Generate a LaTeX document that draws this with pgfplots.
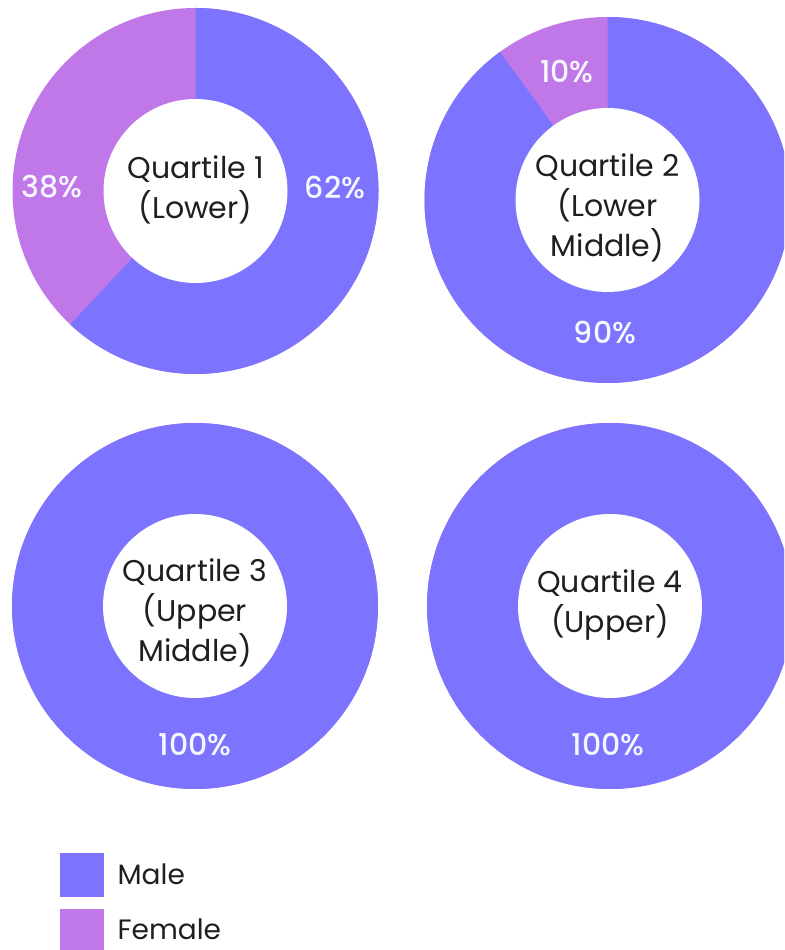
\documentclass[border=0pt]{standalone}
\usepackage{fontspec}
\setmainfont{Poppins}
\IfFontExistsTF{Poppins Medium}{\newfontfamily\pctfont{Poppins Medium}}{\newfontfamily\pctfont{Poppins}[FakeBold=0.6]}
\usepackage{pgfplots}
\pgfplotsset{compat=1.18}
\definecolor{male}{HTML}{7C73FF}
\definecolor{female}{HTML}{C078E8}
% \donut{cx}{cy}{male percent}
\newcommand{\donut}[3]{%
  \fill[female] (axis cs:#1,#2) circle[radius=183bp];
  \fill[male] (axis cs:#1,#2) -- ++(90:183bp) arc[start angle=90,end angle={90-3.6*#3},radius=183bp] -- cycle;
  \fill[white] (axis cs:#1,#2) circle[radius=92bp];
}
\newcommand{\pct}[3]{\node[text=white!94!male,font=\pctfont\fontsize{30bp}{34bp}\selectfont] at (axis cs:#1,#2) {#3};}
\newcommand{\ctr}[3]{\node[align=center,text=black!88,font=\fontsize{30bp}{40bp}\selectfont] at (axis cs:#1,#2) {#3};}
\begin{document}
\begin{tikzpicture}
\begin{axis}[
  hide axis, scale only axis, width=784bp, height=950bp,
  xmin=0, xmax=784, ymin=0, ymax=950,
  legend style={at={(0.0765,0.1021)}, anchor=north west, draw=none, fill=none,
    inner sep=0pt, row sep=12bp, nodes={inner sep=0pt},
    font=\fontsize{28bp}{32bp}\selectfont, text=black!88},
  legend cell align=left,
]
\coordinate (SW) at (rel axis cs:0,0);
\coordinate (NE) at (rel axis cs:1,1);
\donut{195.5}{759}{62}
\donut{607.5}{750}{90}
\donut{195}{344}{100}
\donut{610}{344}{100}
\ctr{195.5}{760}{Quartile 1\\(Lower)}
\ctr{607.5}{742}{Quartile 2\\(Lower\\Middle)}
\ctr{195}{337}{Quartile 3\\(Upper\\Middle)}
\ctr{610}{345}{Quartile 4\\(Upper)}
\pct{335}{763}{62\%}
\pct{52}{763}{38\%}
\pct{567}{878}{10\%}
\pct{605}{617}{90\%}
\pct{195}{205}{100\%}
\pct{608}{205}{100\%}
\addlegendimage{legend image code/.code={\fill[male] (0bp,-21.5bp) rectangle (43bp,21.5bp); \path (57bp,0bp);}}
\addlegendentry{Male}
\addlegendimage{legend image code/.code={\fill[female] (0bp,-21.5bp) rectangle (43bp,21.5bp); \path (57bp,0bp);}}
\addlegendentry{Female}
\end{axis}
\pgfresetboundingbox
\useasboundingbox (SW) rectangle (NE);
\end{tikzpicture}
\end{document}
